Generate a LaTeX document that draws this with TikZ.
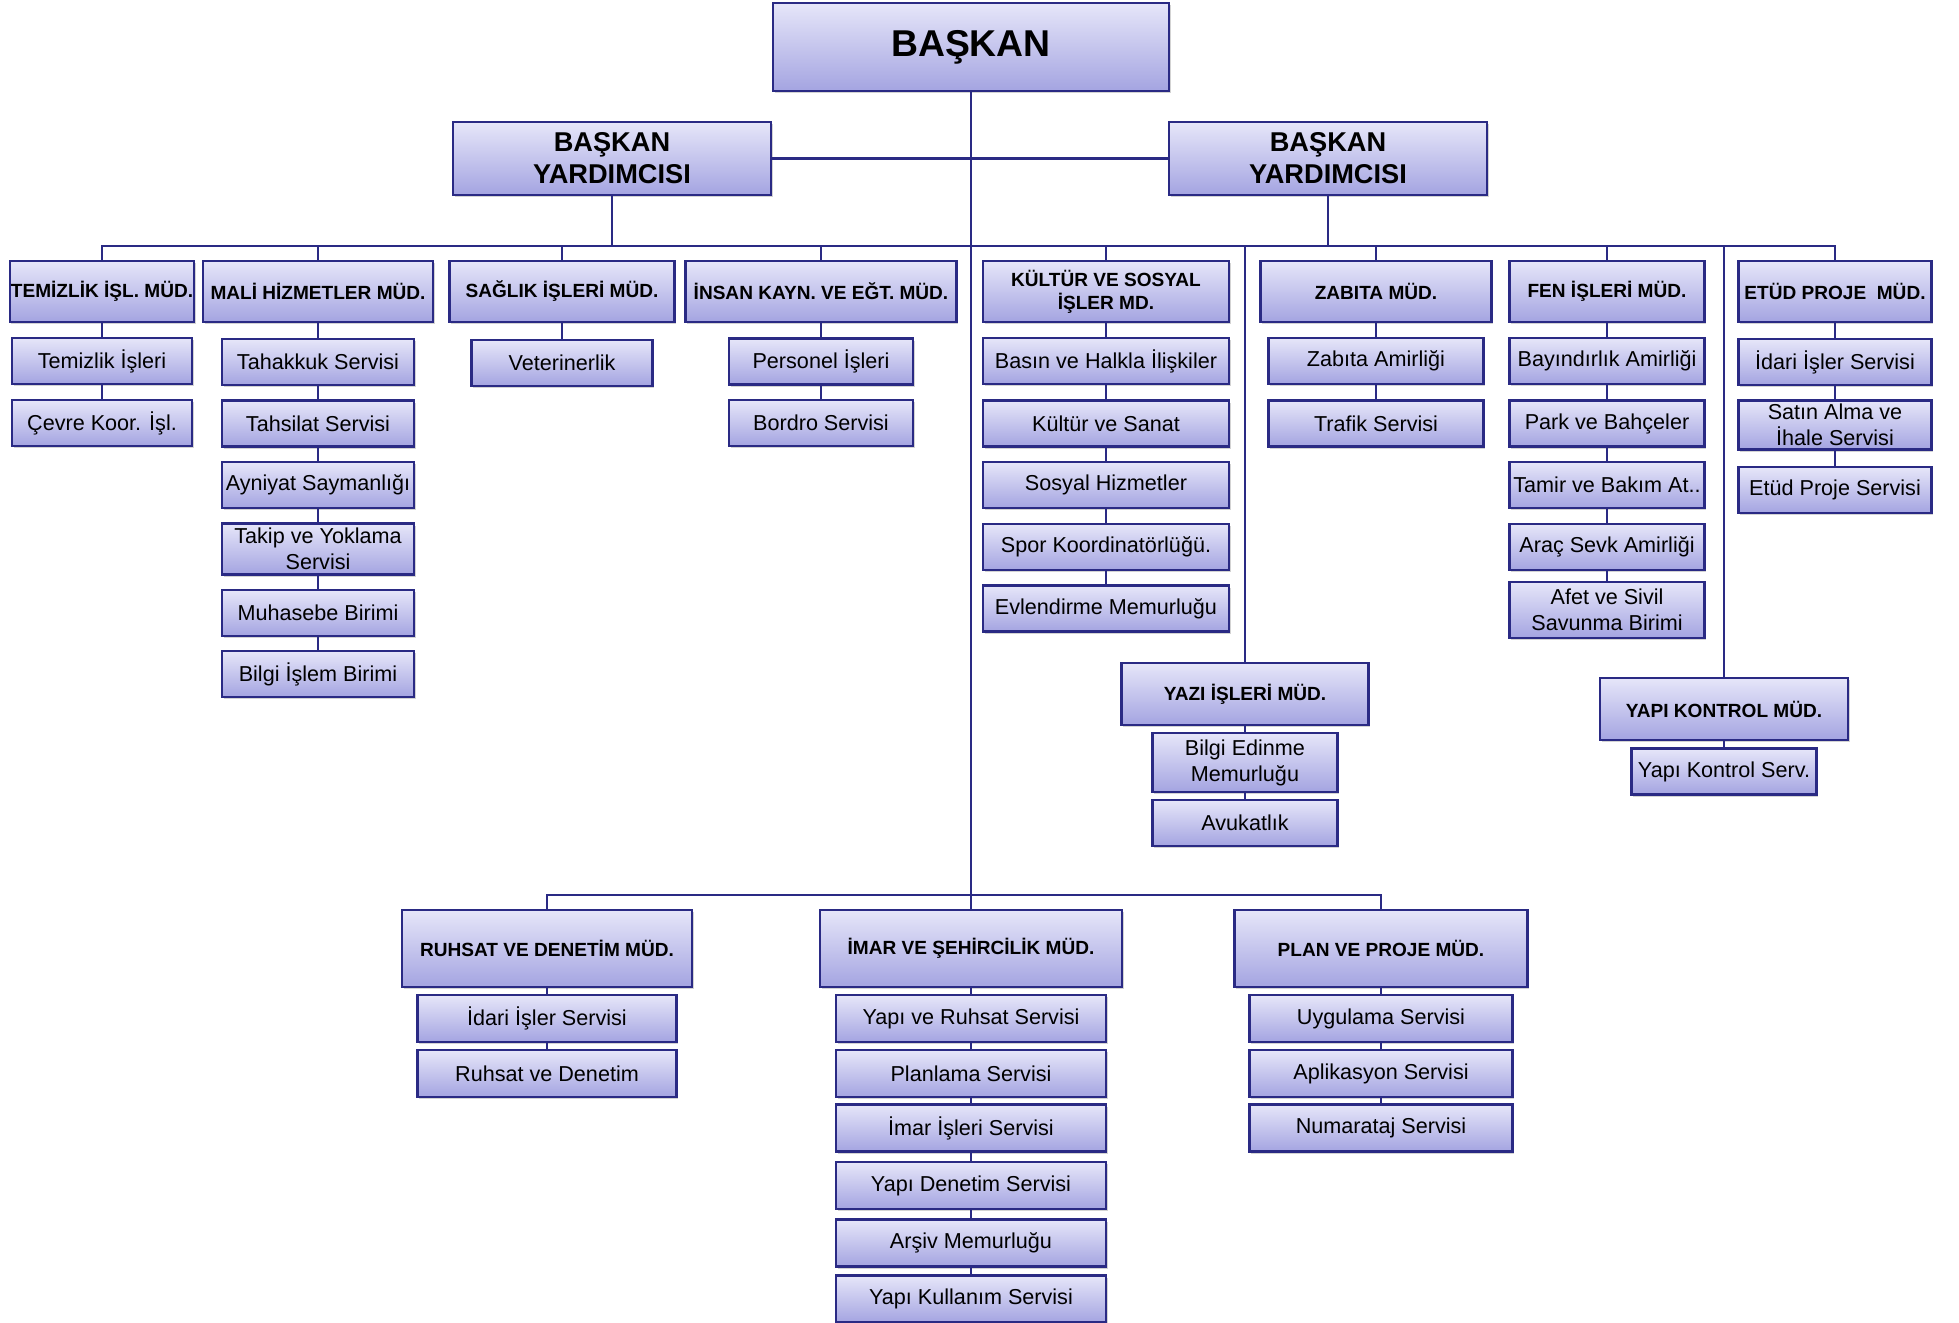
\documentclass[tikz,border=0pt]{standalone}
\usepackage{fontspec}
\setmainfont{Liberation Sans}
\usetikzlibrary{shadows}

\definecolor{navy}{RGB}{42,42,132}
\definecolor{lavtop}{RGB}{230,230,249}
\definecolor{lavbot}{RGB}{164,164,225}

\tikzset{every picture/.style={line width=0.75pt}}
\tikzset{
  box/.style={draw=navy, line width=1.6pt, top color=lavtop, bottom color=lavbot,
    drop shadow={opacity=0.35, shadow xshift=1.2pt, shadow yshift=-1.8pt},
    inner sep=1pt, align=center},
  boss/.style={box, minimum width=396*0.75pt, minimum height=88*0.75pt, font=\fontsize{28}{30}\selectfont\bfseries},
  vice/.style={box, minimum width=318*0.75pt, minimum height=73*0.75pt, font=\fontsize{20.4}{24}\selectfont\bfseries},
  dept/.style={box, minimum width=#1*0.75pt, minimum height=61*0.75pt, font=\fontsize{14.3}{17}\selectfont\bfseries},
  srv/.style={box, minimum width=#1*0.75pt, minimum height=46*0.75pt, font=\fontsize{16.2}{19.5}\selectfont},
  link/.style={draw=navy, line width=1.7pt}
}

\begin{document}
\begin{tikzpicture}[x=0.75pt,y=0.75pt,yscale=-1,xscale=1]
\useasboundingbox (0,0) rectangle (1959,1322);

% Baskan and vice presidents
\node[boss] (baskan) at (971,47) {BAŞKAN};
\node[vice] (vpl) at (612,158.5) {BAŞKAN\\YARDIMCISI};
\node[vice] (vpr) at (1328,158.5) {BAŞKAN\\YARDIMCISI};

% Directorates, upper row
\node[dept=184] (temizlik) at (102,291.5) {TEMİZLİK İŞL. MÜD.};
\node[dept=230] (mali) at (318,291.5) {MALİ HİZMETLER MÜD.};
\node[dept=225] (saglik) at (562,291.5) {SAĞLIK İŞLERİ MÜD.};
\node[dept=271] (insan) at (821,291.5) {İNSAN KAYN. VE EĞT. MÜD.};
\node[dept=246] (kultur) at (1106,291.5) {KÜLTÜR VE SOSYAL\\İŞLER MD.};
\node[dept=231] (zabita) at (1376,291.5) {ZABITA MÜD.};
\node[dept=195] (fen) at (1607,291.5) {FEN İŞLERİ MÜD.};
\node[dept=193] (etud) at (1835,291.5) {ETÜD PROJE~~MÜD.};
\node[dept=247, minimum height=62*0.75pt] (yazi) at (1245,694) {YAZI İŞLERİ MÜD.};
\node[dept=248, minimum height=62*0.75pt] (yapik) at (1724,709) {YAPI KONTROL MÜD.};

% Services, upper row
\node[srv=180] (temisl) at (102,361) {Temizlik İşleri};
\node[srv=180] (cevre) at (102,423) {Çevre Koor. İşl.};

\node[srv=192] (tahakkuk) at (318,362) {Tahakkuk Servisi};
\node[srv=192] (tahsilat) at (318,423.5) {Tahsilat Servisi};
\node[srv=192] (ayniyat) at (318,485) {Ayniyat Saymanlığı};
\node[srv=192, minimum height=51*0.75pt] (takip) at (318,549) {Takip ve Yoklama\\Servisi};
\node[srv=192] (muhasebe) at (318,613) {Muhasebe Birimi};
\node[srv=192] (bilgiisl) at (318,674) {Bilgi İşlem Birimi};

\node[srv=181] (veteriner) at (562,363) {Veterinerlik};

\node[srv=184] (personel) at (821,361.5) {Personel İşleri};
\node[srv=184] (bordro) at (821,423) {Bordro Servisi};

\node[srv=246] (basin) at (1106,361) {Basın ve Halkla İlişkiler};
\node[srv=246] (sanat) at (1106,423.5) {Kültür ve Sanat};
\node[srv=246] (sosyal) at (1106,485) {Sosyal Hizmetler};
\node[srv=246] (spor) at (1106,547) {Spor Koordinatörlüğü.};
\node[srv=246] (evlendirme) at (1106,608.5) {Evlendirme Memurluğu};

\node[srv=215] (zabamir) at (1376,361) {Zabıta Amirliği};
\node[srv=215] (trafik) at (1376,423.5) {Trafik Servisi};

\node[srv=195] (bayindir) at (1607,361) {Bayındırlık Amirliği};
\node[srv=195] (park) at (1607,423.5) {Park ve Bahçeler};
\node[srv=195] (tamir) at (1607,485) {Tamir ve Bakım At..};
\node[srv=195] (arac) at (1607,547) {Araç Sevk Amirliği};
\node[srv=195, minimum height=56*0.75pt] (afet) at (1607,610) {Afet ve Sivil\\Savunma Birimi};

\node[srv=193] (idari) at (1835,362) {İdari İşler Servisi};
\node[srv=193, minimum height=49*0.75pt] (satin) at (1835,425) {Satın Alma ve\\İhale Servisi};
\node[srv=193] (etudsrv) at (1835,490) {Etüd Proje Servisi};

\node[srv=185, minimum height=59*0.75pt] (bilgied) at (1245,762.5) {Bilgi Edinme\\Memurluğu};
\node[srv=185] (avukat) at (1245,823) {Avukatlık};

\node[srv=185] (yapiserv) at (1724,771.5) {Yapı Kontrol Serv.};

% Directorates, lower row
\node[dept=290, minimum height=77*0.75pt] (ruhsat) at (547,948.5) {RUHSAT VE DENETİM MÜD.};
\node[dept=302, minimum height=77*0.75pt] (imar) at (971,948.5) {İMAR VE ŞEHİRCİLİK MÜD.};
\node[dept=293, minimum height=77*0.75pt] (plan) at (1381,948.5) {PLAN VE PROJE MÜD.};

% Services, lower row
\node[srv=259, minimum height=47*0.75pt] (idari2) at (547,1018.5) {İdari İşler Servisi};
\node[srv=259, minimum height=47*0.75pt] (ruhsatden) at (547,1073.5) {Ruhsat ve Denetim};

\node[srv=270, minimum height=47*0.75pt] (yapiruhsat) at (971,1018.5) {Yapı ve Ruhsat Servisi};
\node[srv=270, minimum height=47*0.75pt] (planlama) at (971,1073.5) {Planlama Servisi};
\node[srv=270, minimum height=47*0.75pt] (imarisl) at (971,1128) {İmar İşleri Servisi};
\node[srv=270, minimum height=47*0.75pt] (yapiden) at (971,1185.5) {Yapı Denetim Servisi};
\node[srv=270, minimum height=47*0.75pt] (arsiv) at (971,1243) {Arşiv Memurluğu};
\node[srv=270, minimum height=47*0.75pt] (yapikull) at (971,1299) {Yapı Kullanım Servisi};

\node[srv=263, minimum height=47*0.75pt] (uygulama) at (1381,1018.5) {Uygulama Servisi};
\node[srv=263, minimum height=47*0.75pt] (aplikasyon) at (1381,1073.5) {Aplikasyon Servisi};
\node[srv=263, minimum height=47*0.75pt] (numarataj) at (1381,1128) {Numarataj Servisi};

%Straight Lines
\coordinate (bus) at (971,246);
\coordinate (bus2) at (971,895);
\draw[link] (baskan) -- (imar);
\draw[link] (vpl) -- (vpr);
\draw[link] (temizlik) |- (bus) -| (etud);
\draw[link] (vpl) -- (vpl |- bus);
\draw[link] (vpr) -- (vpr |- bus);
\draw[link] (mali) -- (mali |- bus);
\draw[link] (saglik) -- (saglik |- bus);
\draw[link] (insan) -- (insan |- bus);
\draw[link] (kultur) -- (kultur |- bus);
\draw[link] (zabita) -- (zabita |- bus);
\draw[link] (fen) -- (fen |- bus);
\draw[link] (yazi) -- (yazi |- bus);
\draw[link] (yapik) -- (yapik |- bus);
\draw[link] (ruhsat) |- (bus2) -| (plan);

\draw[link] (temizlik) -- (temisl) -- (cevre);
\draw[link] (mali) -- (tahakkuk) -- (tahsilat) -- (ayniyat) -- (takip) -- (muhasebe) -- (bilgiisl);
\draw[link] (saglik) -- (veteriner);
\draw[link] (insan) -- (personel) -- (bordro);
\draw[link] (kultur) -- (basin) -- (sanat) -- (sosyal) -- (spor) -- (evlendirme);
\draw[link] (zabita) -- (zabamir) -- (trafik);
\draw[link] (fen) -- (bayindir) -- (park) -- (tamir) -- (arac) -- (afet);
\draw[link] (etud) -- (idari) -- (satin) -- (etudsrv);
\draw[link] (yazi) -- (bilgied) -- (avukat);
\draw[link] (yapik) -- (yapiserv);
\draw[link] (ruhsat) -- (idari2) -- (ruhsatden);
\draw[link] (imar) -- (yapiruhsat) -- (planlama) -- (imarisl) -- (yapiden) -- (arsiv) -- (yapikull);
\draw[link] (plan) -- (uygulama) -- (aplikasyon) -- (numarataj);

\end{tikzpicture}
\end{document}
